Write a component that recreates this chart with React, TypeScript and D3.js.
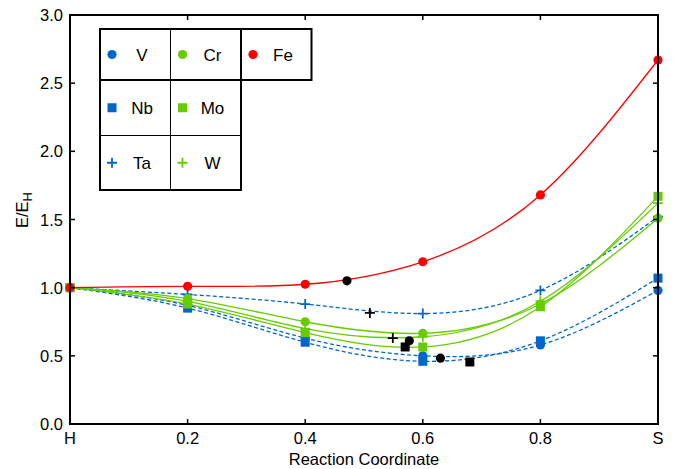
import React from "react";
import * as d3 from "d3";

const xPositions = [0, 0.2, 0.4, 0.6, 0.8, 1.0];
const xTickLabels = ["H", "0.2", "0.4", "0.6", "0.8", "S"];
const yTicks = [0, 0.5, 1.0, 1.5, 2.0, 2.5, 3.0];

const seriesNames = ["V", "Nb", "Ta", "Cr", "Mo", "W", "Fe"];
const vValues = [1.0, 0.87, 0.63, 0.5, 0.58, 0.98];
const nbValues = [1.0, 0.85, 0.6, 0.46, 0.61, 1.07];
const taValues = [1.0, 0.95, 0.88, 0.81, 0.98, 1.52];
const crValues = [1.0, 0.92, 0.75, 0.665, 0.88, 1.51];
const moValues = [1.0, 0.88, 0.67, 0.565, 0.86, 1.67];
const wValues = [1.0, 0.9, 0.7, 0.64, 0.9, 1.62];
const feValues = [1.0, 1.01, 1.025, 1.19, 1.68, 2.67];

const blackX = [0.471, 0.51, 0.549, 0.577, 0.57, 0.63, 0.68];
const blackY = [1.05, 0.815, 0.63, 0.61, 0.565, 0.483, 0.455];
const blackShape = ["circle", "plus", "plus", "circle", "square", "circle", "square"];

const BLUE = "#0066cc";
const GREEN = "#66cc00";
const RED = "#ff0000";

type S = { name: string; values: number[]; color: string; shape: string; dashed: boolean };
const series: S[] = [
  { name: "V", values: vValues, color: BLUE, shape: "circle", dashed: true },
  { name: "Nb", values: nbValues, color: BLUE, shape: "square", dashed: true },
  { name: "Ta", values: taValues, color: BLUE, shape: "plus", dashed: true },
  { name: "Cr", values: crValues, color: GREEN, shape: "circle", dashed: false },
  { name: "Mo", values: moValues, color: GREEN, shape: "square", dashed: false },
  { name: "W", values: wValues, color: GREEN, shape: "plus", dashed: false },
  { name: "Fe", values: feValues, color: RED, shape: "circle", dashed: false },
];

const legendRows = [
  ["V", "Cr", "Fe"],
  ["Nb", "Mo"],
  ["Ta", "W"],
];

function Marker({ shape, x, y, color }: { shape: string; x: number; y: number; color: string }) {
  if (shape === "circle") return <circle cx={x} cy={y} r={4.6} fill={color} />;
  if (shape === "square") return <rect x={x - 4.5} y={y - 4.5} width={9} height={9} fill={color} />;
  return (
    <path d={`M${x - 5},${y}H${x + 5}M${x},${y - 5}V${y + 5}`} stroke={color} strokeWidth={1.8} fill="none" />
  );
}

export default function App() {
  const W = 678, H = 469;
  const left = 70, right = 658, top = 15, bottom = 424;
  const x = d3.scaleLinear().domain([0, 1]).range([left, right]);
  const y = d3.scaleLinear().domain([0, 3]).range([bottom, top]);
  const line = d3
    .line<number>()
    .x((_, i) => x(xPositions[i]))
    .y((d) => y(d))
    .curve(d3.curveNatural);
  const font = "Liberation Sans, Arial, sans-serif";
  const tick = 5;

  const cellW = [70.5, 70.5, 70.5];
  const legX0 = 100, legY0 = 29;
  const rowH = [51, 55.5, 54.5];
  const rowY = [legY0, legY0 + rowH[0], legY0 + rowH[0] + rowH[1]];
  const legBottom = legY0 + rowH[0] + rowH[1] + rowH[2];
  const c1 = legX0 + cellW[0], c2 = c1 + cellW[1], c3 = c2 + cellW[2];
  const colX = [legX0, c1, c2];

  return (
    <div style={{ position: "absolute", left: 0, top: 0 }}>
      <svg width={W} height={H} style={{ display: "block", background: "#fff" }}>
        {series.map((s) => (
          <path
            key={"l" + s.name}
            d={line(s.values) || ""}
            fill="none"
            stroke={s.color}
            strokeWidth={1.3}
            strokeDasharray={s.dashed ? "4,2.5" : undefined}
          />
        ))}
        {series.map((s) =>
          s.values.map((v, i) => (
            <Marker key={s.name + i} shape={s.shape} x={x(xPositions[i])} y={y(v)} color={s.color} />
          ))
        )}
        {blackX.map((bx, i) => (
          <Marker key={"b" + i} shape={blackShape[i]} x={x(bx)} y={y(blackY[i])} color="#000" />
        ))}
        <rect x={left} y={top} width={right - left} height={bottom - top} fill="none" stroke="#000" strokeWidth={2} />
        {xPositions.slice(1, -1).map((v) => (
          <g key={"xt" + v}>
            <line x1={x(v)} x2={x(v)} y1={bottom} y2={bottom - tick} stroke="#000" strokeWidth={1.5} />
            <line x1={x(v)} x2={x(v)} y1={top} y2={top + tick} stroke="#000" strokeWidth={1.5} />
          </g>
        ))}
        {yTicks.slice(1, -1).map((v) => (
          <g key={"yt" + v}>
            <line x1={left} x2={left + tick} y1={y(v)} y2={y(v)} stroke="#000" strokeWidth={1.5} />
            <line x1={right} x2={right - tick} y1={y(v)} y2={y(v)} stroke="#000" strokeWidth={1.5} />
          </g>
        ))}
        {xPositions.map((v, i) => (
          <text key={"xl" + i} x={x(v)} y={bottom + 20} textAnchor="middle" fontFamily={font} fontSize={16.5}>
            {xTickLabels[i]}
          </text>
        ))}
        {yTicks.map((v) => (
          <text key={"yl" + v} x={left - 7} y={y(v) + 6} textAnchor="end" fontFamily={font} fontSize={16.5}>
            {v.toFixed(1)}
          </text>
        ))}
        <text x={(left + right) / 2} y={465} textAnchor="middle" fontFamily={font} fontSize={16.5}>
          Reaction Coordinate
        </text>
        <text transform={`translate(28,${210}) rotate(-90)`} textAnchor="middle" fontFamily={font} fontSize={16.5}>
          E/E<tspan dy={4} fontSize={13}>H</tspan>
        </text>
        <g>
          <rect x={legX0} y={rowY[0]} width={c3 - legX0} height={rowH[0]} fill="#fff" stroke="none" />
          <rect x={legX0} y={rowY[1]} width={c2 - legX0} height={rowH[1] + rowH[2]} fill="#fff" stroke="none" />
          {legendRows.map((row, r) =>
            row.map((name, c) => {
              const s = series.find((q) => q.name === name)!;
              const cy = rowY[r] + rowH[r] / 2;
              return (
                <g key={name}>
                  <Marker shape={s.shape} x={colX[c] + 12} y={cy} color={s.color} />
                  <text x={colX[c] + 42} y={cy + 6} textAnchor="middle" fontFamily={font} fontSize={17}>
                    {name}
                  </text>
                </g>
              );
            })
          )}
          <line x1={legX0} x2={c2} y1={rowY[2]} y2={rowY[2]} stroke="#000" strokeWidth={1} />
          <line x1={c1} x2={c1} y1={legY0} y2={legBottom} stroke="#000" strokeWidth={1} />
          <line x1={legX0} x2={c3} y1={rowY[1]} y2={rowY[1]} stroke="#000" strokeWidth={2} />
          <path
            d={`M${legX0},${legY0}H${c3}V${rowY[1]}H${c2}V${legBottom}H${legX0}Z`}
            fill="none"
            stroke="#000"
            strokeWidth={2}
          />
          <line x1={c2} x2={c2} y1={legY0} y2={legBottom} stroke="#000" strokeWidth={2} />
        </g>
      </svg>
    </div>
  );
}
